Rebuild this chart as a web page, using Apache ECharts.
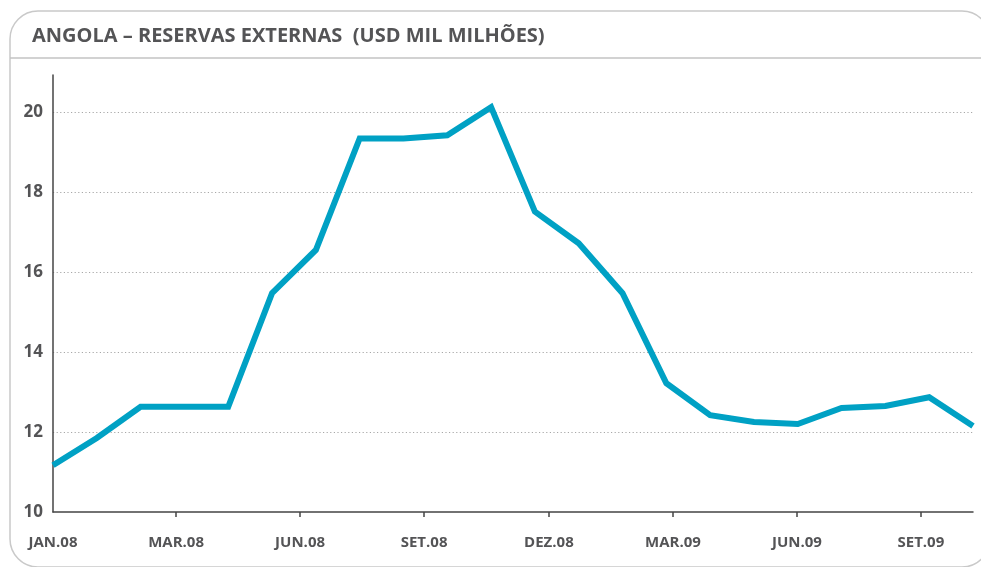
<!DOCTYPE html>
<html>
<head>
<meta charset="utf-8">
<title>Angola – Reservas Externas</title>
<script src="https://cdn.jsdelivr.net/npm/echarts@6/dist/echarts.min.js"></script>
<style>
  html, body { margin: 0; padding: 0; background: #fff; }
  #chart { width: 981px; height: 567px; }
</style>
</head>
<body>
<div id="chart"></div>
<script>
// Monthly external reserves, USD billions (Jan 2008 – Oct 2009)
const months = [
  'JAN.08', 'FEV.08', 'MAR.08', 'ABR.08', 'MAI.08', 'JUN.08', 'JUL.08', 'AGO.08',
  'SET.08', 'OUT.08', 'NOV.08', 'DEZ.08', 'JAN.09', 'FEV.09', 'MAR.09', 'ABR.09',
  'MAI.09', 'JUN.09', 'JUL.09', 'AGO.09', 'SET.09', 'OUT.09'
];
const reserves = [
  11.17, 11.85, 12.63, 12.63, 12.63, 15.47, 16.55, 19.34, 19.34, 19.42, 20.12,
  17.51, 16.72, 15.47, 13.22, 12.42, 12.25, 12.2, 12.6, 12.65, 12.87, 12.15
];

// Axis tick marks and their labels, in month-index units along the time axis
const tickLabels = ['JAN.08', 'MAR.08', 'JUN.08', 'SET.08', 'DEZ.08', 'MAR.09', 'JUN.09', 'SET.09'];
const tickPositions = [0, 2.81, 5.64, 8.47, 11.32, 14.15, 16.98, 19.81];

const yTicks = [10, 12, 14, 16, 18, 20];

const FONT = "'Open Sans', sans-serif";
const TEXT = '#545456';
const AXIS = '#444444';

const chart = echarts.init(document.getElementById('chart'), null, { renderer: 'canvas' });

chart.setOption({
  animation: false,
  backgroundColor: '#ffffff',
  graphic: [
    {
      type: 'rect',
      z: -1,
      shape: { x: 10, y: 11, width: 980, height: 556, r: 28 },
      style: { fill: 'none', stroke: '#c9c9c9', lineWidth: 1.5 }
    },
    {
      type: 'line',
      z: -1,
      shape: { x1: 10, y1: 58, x2: 981, y2: 58 },
      style: { stroke: '#c3c3c3', lineWidth: 1.5 }
    }
  ],
  title: {
    text: 'ANGOLA – RESERVAS EXTERNAS  (USD MIL MILHÕES)',
    left: 27,
    top: 21,
    textStyle: {
      fontFamily: FONT,
      fontWeight: 'bold',
      fontSize: 20,
      color: TEXT
    }
  },
  grid: { left: 53, right: 8, top: 75, bottom: 55 },
  xAxis: {
    type: 'value',
    min: 0,
    max: months.length - 1,
    axisLine: { show: true, lineStyle: { color: AXIS, width: 1.5 } },
    splitLine: { show: false },
    axisTick: {
      show: true,
      length: 5,
      lineStyle: { color: AXIS, width: 1.5 },
      customValues: tickPositions.slice(1)
    },
    axisLabel: {
      customValues: tickPositions,
      margin: 23,
      fontFamily: FONT,
      fontWeight: 'bold',
      fontSize: 15,
      color: TEXT,
      formatter: function (v) {
        const i = tickPositions.findIndex(p => Math.abs(p - v) < 1e-6);
        return i >= 0 ? tickLabels[i] : '';
      }
    }
  },
  yAxis: {
    type: 'value',
    min: yTicks[0],
    max: 20.925,
    interval: 2,
    axisLine: { show: true, lineStyle: { color: AXIS, width: 1.5 } },
    axisTick: { show: false },
    splitLine: {
      show: true,
      showMinLine: false,
      showMaxLine: false,
      lineStyle: { color: '#a8a8a8', width: 1, type: [1.2, 2.4] }
    },
    axisLabel: {
      showMaxLabel: false,
      margin: 10,
      fontFamily: FONT,
      fontWeight: 'bold',
      fontSize: 17,
      color: TEXT,
      formatter: function (v) { return yTicks.indexOf(v) >= 0 ? String(v) : ''; }
    }
  },
  series: [
    {
      type: 'line',
      name: 'Reservas externas',
      data: reserves.map((v, i) => [i, v]),
      symbol: 'none',
      clip: false,
      lineStyle: { color: '#00A1C4', width: 6, join: 'miter' }
    }
  ]
});
</script>
</body>
</html>
